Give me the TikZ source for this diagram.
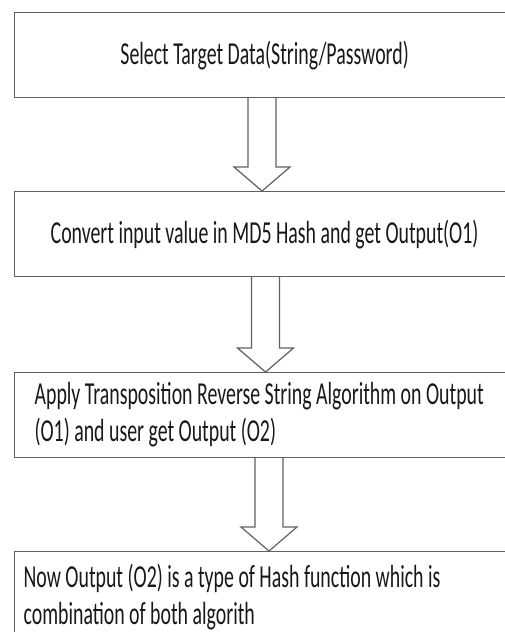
\documentclass[tikz,border=0pt]{standalone}
\usepackage{fontspec}
\setmainfont{Carlito}[FakeStretch=0.62]
\usetikzlibrary{calc,positioning}

% hollow block arrow from the bottom of #1 down to the top of #2, shaft centred at x=#3
\newcommand{\hollowarrow}[3]{%
  \draw[hollow] let \p1=(#1.south), \p2=(#2.north) in
    ({#3pt-14pt},\y1) -- ({#3pt-14pt},{\y2+24pt}) -- ({#3pt-28pt},{\y2+24pt})
    -- (#3pt,\y2) -- ({#3pt+28pt},{\y2+24pt}) -- ({#3pt+14pt},{\y2+24pt})
    -- ({#3pt+14pt},\y1);}

\begin{document}
\begin{tikzpicture}[
    x=1pt, y=1pt,
    stage/.style={rectangle, draw=black!62, line width=1.2pt, minimum width=500pt, minimum height=85pt, anchor=north west, inner sep=0pt, text=black!90, font=\fontsize{32}{37}\selectfont},
    hollow/.style={draw=black!62, line width=1.2pt, line join=miter}
  ]
  \clip (0,0) rectangle (505,-632);
  \fill[white] (0,0) rectangle (505,-632);

  % Stages
  \node (select) [stage] at (14,-12) {Select Target Data(String/Password)};
  \node (md5) [stage] at (14,-191) {Convert input value in MD5 Hash and get Output(O1)};
  \node (reverse) [stage, align=flush left, text width=460pt] at (14,-372) {Apply Transposition Reverse String Algorithm on Output\\(O1) and user get Output (O2)};
  \node (result) [stage, align=flush left, text width=482pt, minimum height=90pt] at (14,-551) {Now Output (O2) is a type of Hash function which is\\combination of both algorith};

  % Flow between stages
  \hollowarrow{select}{md5}{262}
  \hollowarrow{md5}{reverse}{265.5}
  \hollowarrow{reverse}{result}{269}
\end{tikzpicture}
\end{document}
